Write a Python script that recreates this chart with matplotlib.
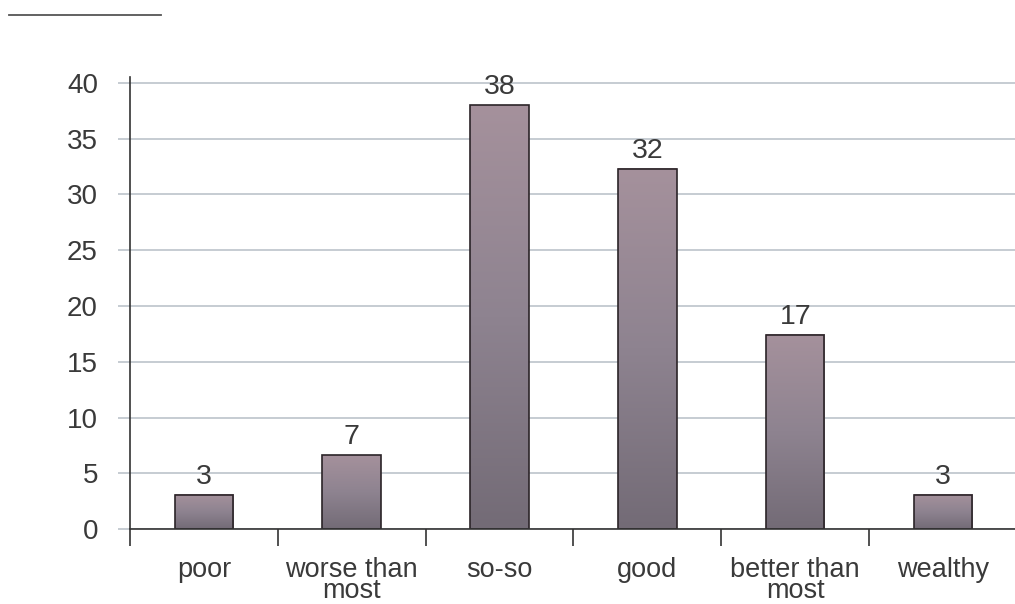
import matplotlib.pyplot as plt
import numpy as np
from matplotlib.colors import LinearSegmentedColormap


categories = ["poor", "worse than\nmost", "so-so", "good", "better than\nmost", "wealthy"]
values = [3.1, 6.6, 38.0, 32.3, 17.4, 3.1]
y_ticks = [0, 5, 10, 15, 20, 25, 30, 35, 40]

TEXT_COLOR = "#3a3a3a"
GRID_COLOR = "#bcc3cb"
AXIS_COLOR = "#333333"
EDGE_COLOR = "#2b2428"

plt.rcParams["font.family"] = ["Liberation Sans", "DejaVu Sans"]

fig = plt.figure(figsize=(10.15, 6.04), dpi=100)
ax = fig.add_axes([0.128, 0.124, 0.874, 0.748])

x = np.arange(len(categories)) + 0.5
bars = ax.bar(x, values, width=0.395, facecolor="none", edgecolor=EDGE_COLOR,
              linewidth=1.2, zorder=4)

# vertical gradient inside every bar: light mauve at the top, darker at the base
shade = LinearSegmentedColormap.from_list("shade", ["#736b76", "#8e8390", "#a5919c"])
gradient = np.linspace(0, 1, 256).reshape(-1, 1)
for bar in bars:
    x0, y0 = bar.get_x(), bar.get_y()
    ax.imshow(gradient, cmap=shade, origin="lower", aspect="auto",
              extent=[x0, x0 + bar.get_width(), y0, y0 + bar.get_height()],
              zorder=3)

for xi, v in zip(x, values):
    ax.text(xi, v + 0.45, f"{int(v + 0.5)}", ha="center", va="bottom",
            fontsize=20.5, color=TEXT_COLOR, zorder=5)

ax.set_xlim(0, len(categories))
ax.set_ylim(0, 40.5)

ax.set_yticks(y_ticks)
ax.set_yticklabels([str(t) for t in y_ticks])
ax.yaxis.grid(True, color=GRID_COLOR, linewidth=1.2)
ax.set_axisbelow(True)

# category boundaries carry the tick marks, labels sit between them
ax.set_xticks(np.arange(len(categories) + 1))
ax.set_xticklabels([])
ax.set_xticks(x, minor=True)
ax.set_xticklabels(categories, minor=True, fontsize=19.5, color=TEXT_COLOR,
                   linespacing=0.76)
ax.tick_params(axis="x", which="major", length=12, width=1.2, color=AXIS_COLOR,
               direction="out")
ax.tick_params(axis="x", which="minor", length=0, pad=20)
ax.tick_params(axis="y", length=9, width=1.2, color=GRID_COLOR, pad=14,
               labelsize=20, labelcolor=TEXT_COLOR)

for side in ["top", "right"]:
    ax.spines[side].set_visible(False)
ax.spines["left"].set_color(AXIS_COLOR)
ax.spines["bottom"].set_color(AXIS_COLOR)
ax.spines["left"].set_linewidth(1.2)
ax.spines["bottom"].set_linewidth(1.2)
ax.spines["bottom"].set_zorder(6)

# short rule in the top-left corner
fig.add_artist(plt.Line2D([0.009, 0.159], [0.975, 0.975], color="#555555",
                          linewidth=1.3, transform=fig.transFigure))

fig.savefig("out.png", dpi=100)
